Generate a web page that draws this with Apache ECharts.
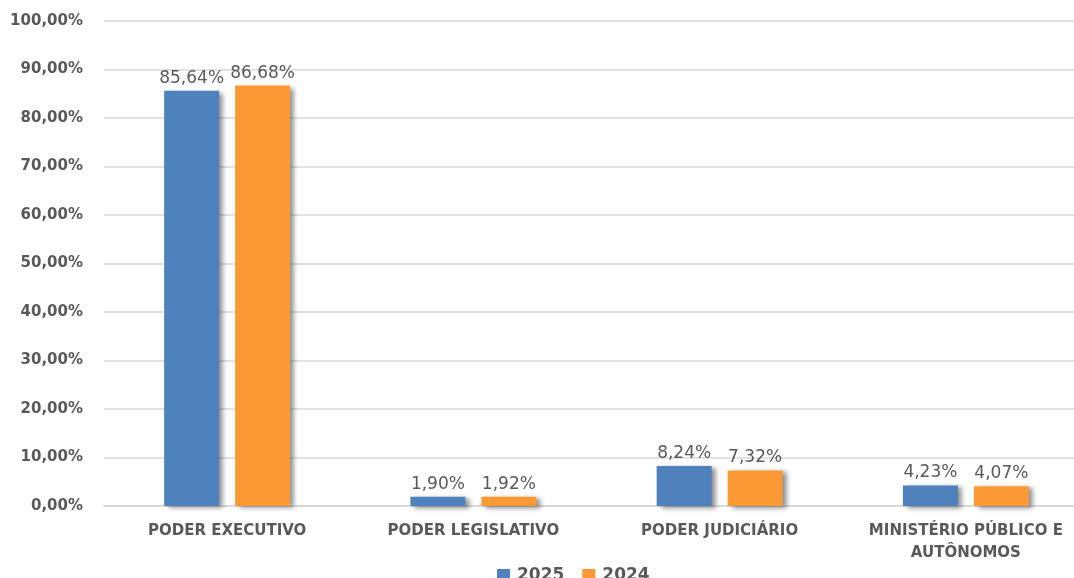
<!DOCTYPE html>
<html>
<head>
<meta charset="utf-8">
<script src="https://cdn.jsdelivr.net/npm/echarts@6/dist/echarts.min.js"></script>
<style>
  html, body { margin: 0; padding: 0; background: #fff; overflow: hidden; }
  /* o gráfico original corta as linhas de grade na borda direita */
  #chart { width: 1089px; height: 578px; }
</style>
</head>
<body>
<div id="chart"></div>
<script>
    // dados do gráfico
    var categorias = ['PODER EXECUTIVO', 'PODER LEGISLATIVO', 'PODER JUDICIÁRIO', 'MINISTÉRIO PÚBLICO E\nAUTÔNOMOS'];
    var anos = ['2025', '2024'];
    var valores2025 = [85.64, 1.90, 8.24, 4.23];
    var valores2024 = [86.68, 1.92, 7.32, 4.07];

    function pct(v) {
        return v.toFixed(2).replace('.', ',') + '%';
    }

    var fonte = '"DejaVu Sans", Verdana, sans-serif';
    var sombra = {
        shadowColor: 'rgba(0,0,0,0.45)',
        shadowBlur: 5,
        shadowOffsetX: 4,
        shadowOffsetY: 2
    };

    var myChart = echarts.init(document.getElementById('chart'));
    var option = {
        animation: false,
        legend: {
            data: anos,
            top: 562,
            left: 492,
            icon: 'rect',
            itemWidth: 13,
            itemHeight: 13,
            itemGap: 18,
            textStyle: { color: '#595959', fontSize: 17, fontWeight: 'bold', fontFamily: fonte, padding: [0, 0, 0, 2] }
        },
        grid: { left: 104, right: 0, top: 21, bottom: 72 },
        xAxis: {
            type: 'category',
            data: categorias,
            axisTick: { show: false },
            axisLine: { lineStyle: { color: '#d9d9d9', width: 2 } },
            axisLabel: {
                color: '#595959', fontSize: 15, fontWeight: 'bold', fontFamily: fonte,
                margin: 14, lineHeight: 22, interval: 0
            }
        },
        yAxis: {
            type: 'value',
            min: 0,
            max: 100,
            interval: 10,
            axisLine: { show: false },
            axisTick: { show: false },
            splitLine: { lineStyle: { color: '#d9d9d9', width: 1.5 } },
            axisLabel: {
                color: '#595959', fontSize: 15, fontWeight: 'bold', fontFamily: fonte,
                margin: 21,
                formatter: function (v) { return pct(v); }
            }
        },
        series: [
            {
                name: anos[0],
                type: 'bar',
                data: valores2025,
                barWidth: 55,
                barGap: '29%',
                itemStyle: Object.assign({ color: '#4f81bd' }, sombra),
                label: {
                    show: true, position: 'top', distance: 4,
                    color: '#595959', fontSize: 17, fontFamily: fonte,
                    formatter: function (p) { return pct(p.value); }
                }
            },
            {
                name: anos[1],
                type: 'bar',
                data: valores2024,
                barWidth: 55,
                itemStyle: Object.assign({ color: '#fd9a36' }, sombra),
                label: {
                    show: true, position: 'top', distance: 4,
                    color: '#595959', fontSize: 17, fontFamily: fonte,
                    formatter: function (p) { return pct(p.value); }
                }
            }
        ]
    };
    myChart.setOption(option);
</script>
</body>
</html>
